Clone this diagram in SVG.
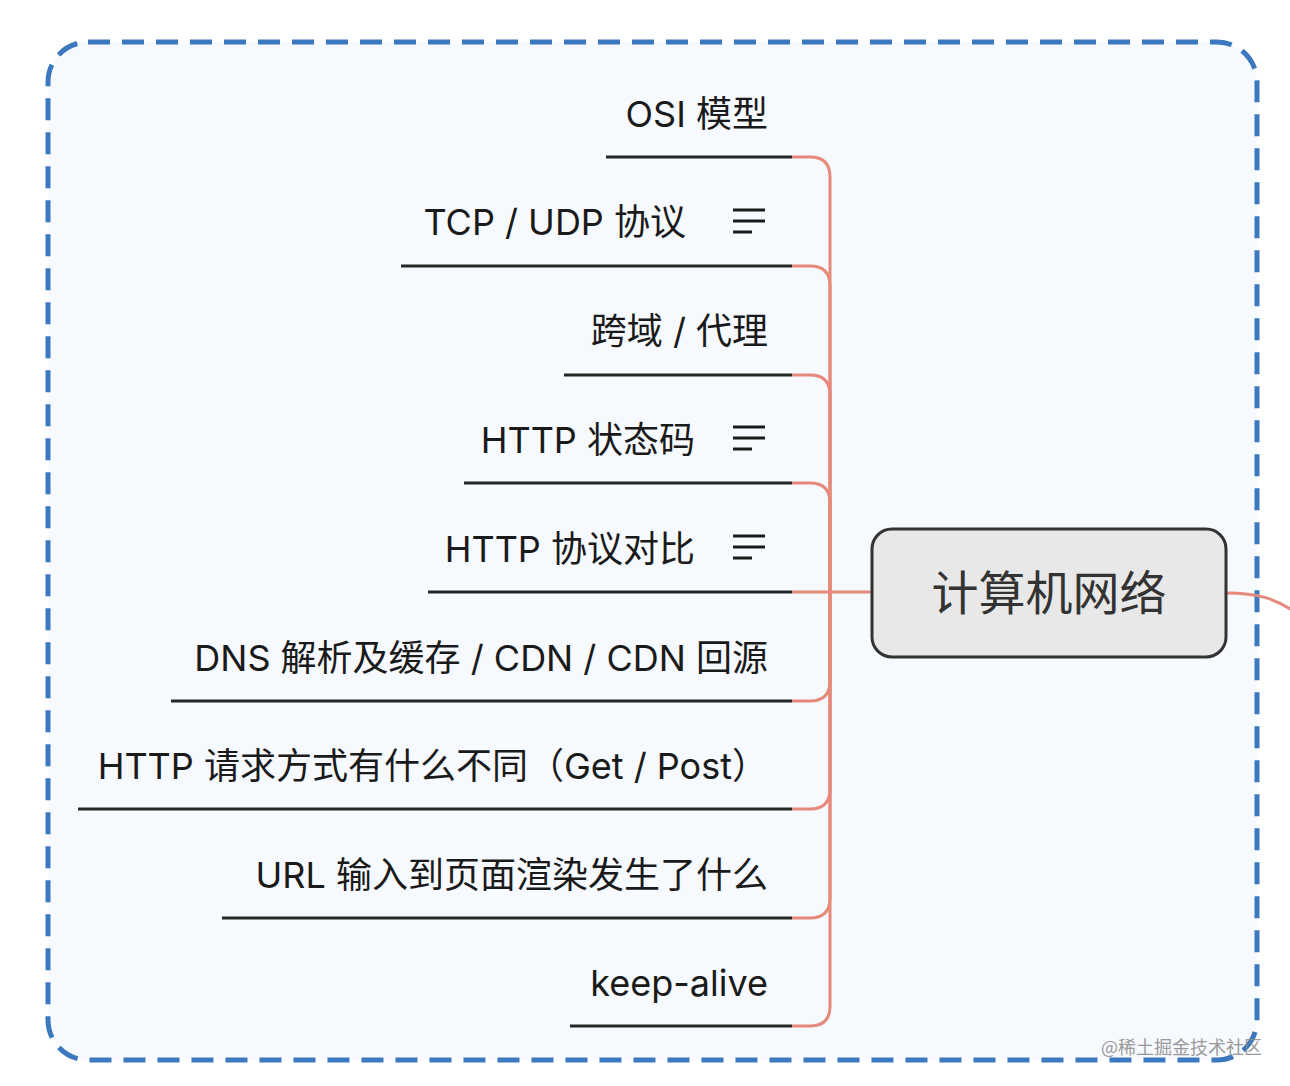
<svg xmlns="http://www.w3.org/2000/svg" width="1290" height="1086" viewBox="0 0 1290 1086">
<style>
.t{font-family:Inter,"Noto Sans CJK SC",sans-serif;font-size:36px;fill:#1a1a1a;text-anchor:end}
.u{stroke:#262626;stroke-width:3;fill:none}
.c{stroke:#e58a7b;stroke-width:3;fill:none}
.ic{stroke:#1a1a1a;stroke-width:3}
</style>
<defs>
<g id="icon"><line class="ic" x1="733" y1="-11" x2="765" y2="-11"/><line class="ic" x1="733" y1="0" x2="765" y2="0"/><line class="ic" x1="733" y1="11" x2="752" y2="11"/></g>
</defs>
<rect width="1290" height="1086" fill="#ffffff"/>
<rect x="48" y="42" width="1209" height="1018" rx="40" fill="#f6f9fd" stroke="#3b78bf" stroke-width="5" stroke-dasharray="22 12"/>
<g id="connectors">
<path class="c" d="M871,592 H830"/>
<path class="c" d="M830,592 V177 Q830,157 810,157 H792"/>
<path class="c" d="M830,592 V286 Q830,266 810,266 H792"/>
<path class="c" d="M830,592 V395 Q830,375 810,375 H792"/>
<path class="c" d="M830,592 V503 Q830,483 810,483 H792"/>
<path class="c" d="M830,592 H792"/>
<path class="c" d="M830,592 V681 Q830,701 810,701 H792"/>
<path class="c" d="M830,592 V789 Q830,809 810,809 H792"/>
<path class="c" d="M830,592 V898 Q830,918 810,918 H792"/>
<path class="c" d="M830,592 V1006 Q830,1026 810,1026 H792"/>
<path class="c" d="M1226,593 C1258,593 1275,598 1300,615"/>
</g>
<g id="center">
<rect x="872" y="529" width="354" height="128" rx="20" fill="#e8e8e8" stroke="#333333" stroke-width="3"/>
<text x="1049" y="610" style="font-family:'Noto Sans CJK SC',sans-serif;font-size:47px;fill:#333333;text-anchor:middle">计算机网络</text>
</g>
<g id="n1"><text class="t" x="768" y="127">OSI 模型</text><line class="u" x1="606" y1="157" x2="792" y2="157"/></g>
<g id="n2"><text class="t" x="686" y="235">TCP / UDP 协议</text><use href="#icon" y="221"/><line class="u" x1="401" y1="266" x2="792" y2="266"/></g>
<g id="n3"><text class="t" x="768" y="344">跨域 / 代理</text><line class="u" x1="564" y1="375" x2="792" y2="375"/></g>
<g id="n4"><text class="t" x="695" y="453">HTTP 状态码</text><use href="#icon" y="438"/><line class="u" x1="464" y1="483" x2="792" y2="483"/></g>
<g id="n5"><text class="t" x="695" y="562">HTTP 协议对比</text><use href="#icon" y="547"/><line class="u" x1="428" y1="592" x2="792" y2="592"/></g>
<g id="n6"><text class="t" x="768" y="671">DNS 解析及缓存 / CDN / CDN 回源</text><line class="u" x1="171" y1="701" x2="792" y2="701"/></g>
<g id="n7"><text class="t" x="768" y="779">HTTP 请求方式有什么不同（Get / Post）</text><line class="u" x1="78" y1="809" x2="792" y2="809"/></g>
<g id="n8"><text class="t" x="768" y="888">URL 输入到页面渲染发生了什么</text><line class="u" x1="222" y1="918" x2="792" y2="918"/></g>
<g id="n9"><text class="t" x="768" y="996">keep-alive</text><line class="u" x1="570" y1="1026" x2="792" y2="1026"/></g>
<text x="1262" y="1054" style="font-family:'Noto Sans CJK SC',sans-serif;font-size:18px;fill:#8a8a8a;text-anchor:end;opacity:0.85">@稀土掘金技术社区</text>
</svg>
